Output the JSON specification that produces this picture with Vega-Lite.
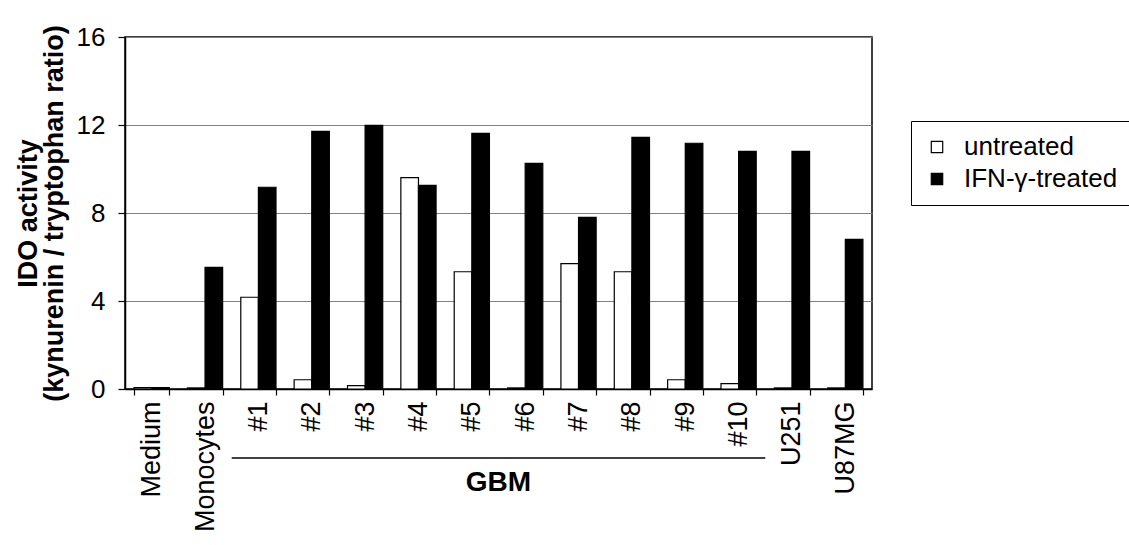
{
  "$schema": "https://vega.github.io/schema/vega-lite/v6.json",
  "width": 747,
  "height": 352,
  "autosize": "none",
  "padding": {"left": 125, "top": 37, "right": 257, "bottom": 156},
  "background": "white",
  "config": {
    "font": "Liberation Sans",
    "view": {"stroke": "black", "strokeWidth": 1.5},
    "axis": {"labelColor": "black", "titleColor": "black", "domainColor": "black", "tickColor": "black", "labelFont": "Liberation Sans", "titleFont": "Liberation Sans"}
  },
  "layer": [
    {
      "data": {
        "values": [
          {"cat": "Medium", "group": "untreated", "value": 0.06},
          {"cat": "Medium", "group": "IFN-γ-treated", "value": 0.06},
          {"cat": "Monocytes", "group": "untreated", "value": 0.05},
          {"cat": "Monocytes", "group": "IFN-γ-treated", "value": 5.53},
          {"cat": "#1", "group": "untreated", "value": 4.17},
          {"cat": "#1", "group": "IFN-γ-treated", "value": 9.17},
          {"cat": "#2", "group": "untreated", "value": 0.42},
          {"cat": "#2", "group": "IFN-γ-treated", "value": 11.71},
          {"cat": "#3", "group": "untreated", "value": 0.15},
          {"cat": "#3", "group": "IFN-γ-treated", "value": 11.98},
          {"cat": "#4", "group": "untreated", "value": 9.61},
          {"cat": "#4", "group": "IFN-γ-treated", "value": 9.26},
          {"cat": "#5", "group": "untreated", "value": 5.33},
          {"cat": "#5", "group": "IFN-γ-treated", "value": 11.62},
          {"cat": "#6", "group": "untreated", "value": 0.05},
          {"cat": "#6", "group": "IFN-γ-treated", "value": 10.26},
          {"cat": "#7", "group": "untreated", "value": 5.7},
          {"cat": "#7", "group": "IFN-γ-treated", "value": 7.8},
          {"cat": "#8", "group": "untreated", "value": 5.33},
          {"cat": "#8", "group": "IFN-γ-treated", "value": 11.44},
          {"cat": "#9", "group": "untreated", "value": 0.42},
          {"cat": "#9", "group": "IFN-γ-treated", "value": 11.17},
          {"cat": "#10", "group": "untreated", "value": 0.24},
          {"cat": "#10", "group": "IFN-γ-treated", "value": 10.8},
          {"cat": "U251", "group": "untreated", "value": 0.05},
          {"cat": "U251", "group": "IFN-γ-treated", "value": 10.8},
          {"cat": "U87MG", "group": "untreated", "value": 0.05},
          {"cat": "U87MG", "group": "IFN-γ-treated", "value": 6.8}
        ]
      },
      "mark": {"type": "bar", "stroke": "black", "strokeWidth": 1.2},
      "encoding": {
        "x": {
          "field": "cat",
          "type": "nominal",
          "scale": {"domain": ["Medium", "Monocytes", "#1", "#2", "#3", "#4", "#5", "#6", "#7", "#8", "#9", "#10", "U251", "U87MG"], "paddingInner": 0.34, "paddingOuter": 0.17},
          "axis": {
            "title": null,
            "labelAngle": -90,
            "labelFontSize": 27,
            "labelPadding": 6,
            "tickBand": "extent",
            "tickSize": 6,
            "tickWidth": 1.2,
            "domainWidth": 1.5,
            "grid": false
          }
        },
        "xOffset": {"field": "group", "type": "nominal", "sort": ["untreated", "IFN-γ-treated"]},
        "y": {
          "field": "value",
          "type": "quantitative",
          "scale": {"domain": [0, 16], "nice": false},
          "axis": {
            "values": [0, 4, 8, 12, 16],
            "grid": true,
            "gridColor": "#808080",
            "gridWidth": 1,
            "labelFontSize": 26,
            "labelPadding": 13,
            "tickSize": 7,
            "tickWidth": 1.2,
            "domainWidth": 1.5,
            "title": ["IDO activity", "(kynurenin / tryptophan ratio)"],
            "titleFontSize": 27,
            "titleFontWeight": "bold",
            "titleLineHeight": 26,
            "titlePadding": 8
          }
        },
        "fill": {
          "field": "group",
          "type": "nominal",
          "scale": {"domain": ["untreated", "IFN-γ-treated"], "range": ["white", "black"]},
          "legend": {
            "orient": "none",
            "legendX": 786,
            "legendY": 84,
            "title": null,
            "labelFontSize": 26,
            "labelColor": "black",
            "labelFont": "Liberation Sans",
            "symbolType": "square",
            "symbolSize": 130,
            "symbolStrokeColor": "black",
            "symbolStrokeWidth": 1.2,
            "strokeColor": "black",
            "fillColor": "white",
            "padding": 13,
            "rowPadding": 6,
            "labelOffset": 14
          }
        }
      }
    },
    {
      "data": {"values": [{"from": "#1", "to": "#10"}]},
      "mark": {"type": "rule", "color": "black", "strokeWidth": 1.5},
      "encoding": {
        "x": {"field": "from", "type": "nominal", "bandPosition": -0.2576},
        "x2": {"field": "to", "bandPosition": 1.2576},
        "y": {"datum": -3.14}
      }
    },
    {
      "data": {"values": [{"at": "#5", "label": "GBM"}]},
      "mark": {"type": "text", "fontWeight": "bold", "fontSize": 28, "color": "black", "baseline": "middle", "align": "center"},
      "encoding": {
        "x": {"field": "at", "type": "nominal", "bandPosition": 1.2576},
        "y": {"datum": -4.27},
        "text": {"field": "label"}
      }
    }
  ]
}
